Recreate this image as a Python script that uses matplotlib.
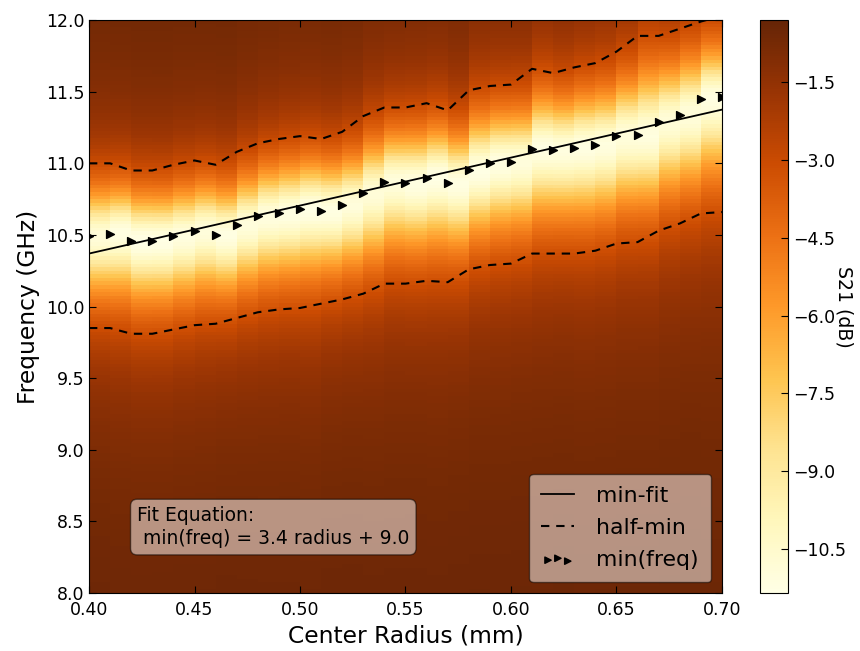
import numpy as np
import matplotlib
matplotlib.use('Agg')
import matplotlib.pyplot as plt
from matplotlib.colors import Normalize

# center radius sweep (mm)
radius = [0.40, 0.41, 0.42, 0.43, 0.44, 0.45, 0.46, 0.47, 0.48, 0.49, 0.50,
          0.51, 0.52, 0.53, 0.54, 0.55, 0.56, 0.57, 0.58, 0.59, 0.60,
          0.61, 0.62, 0.63, 0.64, 0.65, 0.66, 0.67, 0.68, 0.69, 0.70]

# resonance (minimum S21) frequency per radius, GHz
min_freq = [10.49, 10.51, 10.46, 10.46, 10.49, 10.53, 10.50, 10.57, 10.63, 10.65, 10.68,
            10.67, 10.71, 10.79, 10.87, 10.86, 10.90, 10.86, 10.95, 11.00, 11.01,
            11.10, 11.09, 11.11, 11.13, 11.19, 11.20, 11.29, 11.34, 11.45, 11.46]

# half-minimum crossings above / below the resonance, GHz
upper_half = [11.00, 11.00, 10.95, 10.95, 10.99, 11.02, 10.99, 11.08, 11.14, 11.17, 11.19,
              11.17, 11.22, 11.33, 11.39, 11.39, 11.42, 11.37, 11.51, 11.54, 11.55,
              11.66, 11.63, 11.67, 11.70, 11.78, 11.89, 11.89, 11.94, 11.99, 12.03]
lower_half = [9.85, 9.85, 9.81, 9.81, 9.84, 9.87, 9.88, 9.92, 9.96, 9.98, 9.99,
              10.02, 10.05, 10.09, 10.16, 10.16, 10.18, 10.17, 10.26, 10.29, 10.30,
              10.37, 10.37, 10.37, 10.39, 10.44, 10.45, 10.53, 10.58, 10.65, 10.66]

# depth of the dip (dB) per radius
min_s21 = [-10.9, -11.2, -11.35, -11.3, -11.1, -11.0, -11.2, -11.0, -11.1, -11.2, -11.3,
           -11.2, -11.0, -10.9, -11.0, -11.2, -11.3, -11.2, -11.3, -11.2, -11.0,
           -11.2, -11.1, -11.2, -11.1, -11.0, -11.1, -10.9, -11.0, -11.2, -11.0]

baseline_s21 = -0.3
fit_coef = [3.35, 9.03]
fit_text = 'Fit Equation:\n min(freq) = 3.4 radius + 9.0'

# rebuild the S21 map column by column from the measured dip parameters
freq_edges = np.linspace(8.0, 12.0, 161)
freq_mid = 0.5 * (freq_edges[:-1] + freq_edges[1:])
cols = []
for f0, lo, hi, d in zip(min_freq[:-1], lower_half[:-1], upper_half[:-1], min_s21[:-1]):
    w = np.where(freq_mid >= f0, hi - f0, f0 - lo) * 0.6
    cols.append(baseline_s21 + (d - baseline_s21) / (1 + ((freq_mid - f0) / w) ** 2))
s21 = np.array(cols).T

plt.rcParams['font.family'] = 'DejaVu Sans'
plt.rcParams['xtick.direction'] = 'in'
plt.rcParams['ytick.direction'] = 'in'

fig = plt.figure(figsize=(8.6, 6.51), dpi=100)
ax = fig.add_axes([0.1035, 0.0891, 0.736, 0.880])
cax = fig.add_axes([0.8837, 0.0891, 0.0326, 0.880])

mesh = ax.pcolormesh(radius, freq_edges, s21, cmap='YlOrBr',
                     norm=Normalize(vmin=-11.35, vmax=-0.3), shading='flat')

x = np.array(radius)
ax.plot(x, np.polyval(fit_coef, x), color='k', lw=1.3, label='min-fit')
ax.plot(radius, upper_half, color='k', lw=1.5, ls=(0, (4, 3.3)), label='half-min')
ax.plot(radius, lower_half, color='k', lw=1.5, ls=(0, (4, 3.3)))
ax.scatter(radius, min_freq, marker='>', s=32, color='k', label='min(freq)', zorder=3)

ax.set_xlim(0.40, 0.70)
ax.set_ylim(8.0, 12.0)
ax.set_xticks(np.arange(0.40, 0.701, 0.05))
ax.set_yticks(np.arange(8.0, 12.01, 0.5))
ax.xaxis.set_major_formatter(plt.FormatStrFormatter('%.2f'))
ax.yaxis.set_major_formatter(plt.FormatStrFormatter('%.1f'))
ax.tick_params(top=True, right=True, labelsize=12.5, length=5)
ax.tick_params(axis='x', pad=5.5)
ax.set_xlabel('Center Radius (mm)', fontsize=16.8)
ax.set_ylabel('Frequency (GHz)', fontsize=16.8)

ax.text(0.076, 0.078, fit_text, transform=ax.transAxes, fontsize=13.5, va='bottom',
        linespacing=1.3,
        bbox=dict(boxstyle='round,pad=0.35', facecolor='white', edgecolor='k', alpha=0.5))

leg = ax.legend(loc='lower right', fontsize=15.8, fancybox=True, framealpha=0.5,
                edgecolor='k', handlelength=1.5, handletextpad=1.0, labelspacing=0.55,
                borderpad=0.55, scatterpoints=3, scatteryoffsets=[0.375, 0.5, 0.3125],
                markerscale=0.8)

cbar = fig.colorbar(mesh, cax=cax, ticks=np.arange(-10.5, -1.0, 1.5))
cbar.ax.tick_params(labelsize=12.5, direction='in', length=5)
# label sits close to the tick labels, as in the original
cax.text(3.0, 0.5, 'S21 (dB)', rotation=270, fontsize=13.6, ha='center', va='center',
         transform=cax.transAxes)

fig.savefig('out.png', dpi=100, facecolor='white')
